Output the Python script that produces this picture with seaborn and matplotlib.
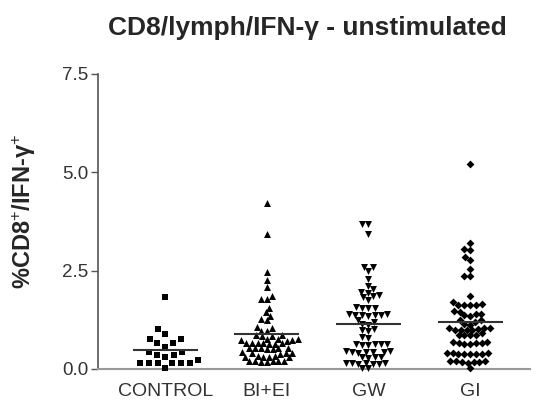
import matplotlib
matplotlib.use("Agg")
import matplotlib.pyplot as plt
import seaborn as sns
import pandas as pd
import numpy as np

categories = ["CONTROL", "BI+EI", "GW", "GI"]

control = [1.83, 1.02, 0.89, 0.76, 0.76, 0.66, 0.66, 0.56, 0.43, 0.43, 0.36, 0.36,
           0.30, 0.23, 0.15, 0.15, 0.15, 0.14, 0.15, 0.15, 0.03]

bi_ei = [4.21, 3.42, 2.46, 2.26, 2.07, 1.77, 1.85, 1.78, 1.56, 1.44, 1.35, 1.24, 1.26,
         1.07, 0.97, 0.97, 1.03,
         0.86, 0.84, 0.85, 0.83,
         0.75, 0.76, 0.73, 0.74, 0.76, 0.72,
         0.65, 0.66, 0.64, 0.65, 0.67, 0.63, 0.65,
         0.54, 0.53, 0.51, 0.52, 0.54, 0.50, 0.52,
         0.40, 0.41, 0.39, 0.40, 0.42,
         0.31, 0.32, 0.30, 0.31, 0.33, 0.29,
         0.19, 0.20, 0.18, 0.19, 0.21, 0.17, 0.19]

gw = [3.68, 3.68, 3.42, 2.60, 2.50, 2.60, 2.28, 2.11,
      2.02, 1.94, 1.85, 1.82, 1.88, 1.96, 1.75,
      1.55, 1.54, 1.56, 1.57,
      1.37, 1.36, 1.35, 1.38, 1.39, 1.36, 1.40,
      1.20, 1.25, 1.12, 1.15,
      0.99, 1.02, 0.97,
      0.79, 0.80,
      0.62, 0.63, 0.60, 0.61, 0.64, 0.62,
      0.43, 0.42, 0.45, 0.41, 0.43, 0.44, 0.46,
      0.30, 0.29, 0.28, 0.31,
      0.14, 0.13, 0.12, 0.14, 0.15, 0.13, 0.14,
      0.02, 0.02]

gi = [5.20, 3.05, 3.02, 3.20, 2.77, 2.85, 2.54, 2.36, 2.36, 1.86,
      1.66, 1.62, 1.62, 1.63, 1.63, 1.70,
      1.45, 1.40, 1.35, 1.36, 1.40, 1.47,
      1.23, 1.15, 1.20, 1.12, 1.23,
      1.00, 0.98, 1.03, 1.03, 1.03, 1.01, 0.99, 1.00,
      0.85, 0.87, 0.85, 0.87, 0.90,
      0.68, 0.66, 0.65, 0.64, 0.63, 0.65, 0.68,
      0.40, 0.40, 0.38, 0.37, 0.39, 0.41, 0.37, 0.38,
      0.20, 0.19, 0.18, 0.16, 0.18, 0.19, 0.18, 0.03]

groups = [control, bi_ei, gw, gi]
markers = ["s", "^", "v", "D"]
swarm_sizes = [6.0, 4.0, 4.2, 4.0]
display_sizes = [4.6, 5.0, 5.0, 4.0]

df = pd.DataFrame({
    "group": np.concatenate([[c] * len(v) for c, v in zip(categories, groups)]),
    "value": np.concatenate(groups),
})

sns.set_theme(style="ticks")
plt.rcParams["font.family"] = ["Liberation Sans", "DejaVu Sans"]
plt.rcParams["mathtext.fontset"] = "custom"
plt.rcParams["mathtext.rm"] = "Liberation Sans"
plt.rcParams["mathtext.it"] = "Liberation Sans:italic"
plt.rcParams["mathtext.bf"] = "Liberation Sans:bold"

fig = plt.figure(figsize=(5.36, 4.04), dpi=100)
ax = fig.add_axes([0.183, 0.087, 0.806, 0.730])

swarm_colls = []
for cat, mk, ssz, dsz in zip(categories, markers, swarm_sizes, display_sizes):
    sub = df[df["group"] == cat]
    n_before = len(ax.collections)
    sns.swarmplot(data=sub, x="group", y="value", order=categories, marker=mk,
                  color="black", size=ssz, ax=ax, clip_on=False, linewidth=0,
                  warn_thresh=1.0)
    for coll in ax.collections[n_before:]:
        swarm_colls.append((coll, dsz))

means = df.groupby("group")["value"].mean().reindex(categories)
for i, m in enumerate(means):
    ax.hlines(m, i - 0.32, i + 0.32, color="#333333", lw=1.5, zorder=5)

ax.set_ylim(0, 7.5)
ax.set_xlim(-0.66, 3.59)
ax.set_yticks([0.0, 2.5, 5.0, 7.5])
ax.set_yticklabels(["0.0", "2.5", "5.0", "7.5"])
ax.tick_params(axis="y", length=5, width=1, color="#555555", labelsize=13.5,
               labelcolor="#333333", pad=2)
ax.tick_params(axis="x", length=0, labelsize=14, labelcolor="#333333", pad=10)
for s in ["top", "right"]:
    ax.spines[s].set_visible(False)
ax.spines["left"].set_color("#555555")
ax.spines["bottom"].set_color("#999999")
ax.spines["left"].set_linewidth(1.2)
ax.spines["bottom"].set_linewidth(1.5)
ax.set_xlabel("")
ax.set_ylabel("%CD8$^{+}$/IFN-γ$^{+}$", fontsize=17, fontweight="bold")
ax.yaxis.set_label_coords(-0.14, 0.535)
fig.text(0.574, 0.93, "CD8/lymph/IFN-γ - unstimulated", ha="center", va="center",
         fontsize=19, fontweight="bold")

# compute swarm layout once, then freeze positions and set final marker sizes
fig.canvas.draw()
for coll, dsz in swarm_colls:
    if "draw" in coll.__dict__:
        del coll.__dict__["draw"]
    coll.set_sizes([dsz ** 2])

fig.savefig("out.png", dpi=100)
